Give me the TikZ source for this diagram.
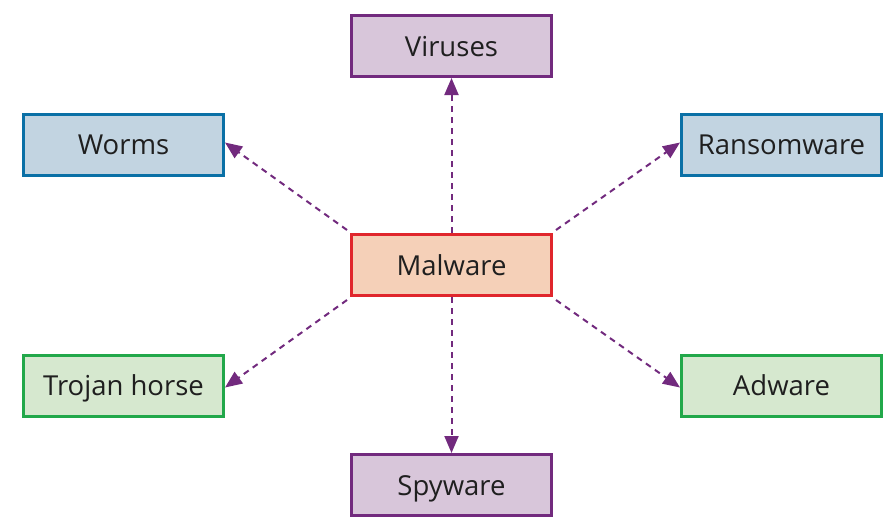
\documentclass[tikz,border=0pt]{standalone}
\usepackage{fontspec}
\setmainfont{Open Sans}
\usetikzlibrary{arrows.meta}
\definecolor{malred}{HTML}{E0262C}
\definecolor{malfill}{HTML}{F5D0B8}
\definecolor{purpleline}{HTML}{722A7E}
\definecolor{purplefill}{HTML}{D8C6DA}
\definecolor{blueline}{HTML}{0A70A6}
\definecolor{bluefill}{HTML}{C2D4E1}
\definecolor{greenline}{HTML}{22A84A}
\definecolor{greenfill}{HTML}{D6E8CF}

\begin{document}
\begin{tikzpicture}[x=1pt,y=-1pt,font=\fontsize{27.5}{32}\selectfont,
  box/.style={draw,line width=3pt,minimum width=200pt,minimum height=61pt,inner sep=0pt,
    text height=23pt,text depth=3pt,text=black!88},
  purplebox/.style={box,draw=purpleline,fill=purplefill},
  bluebox/.style={box,draw=blueline,fill=bluefill},
  greenbox/.style={box,draw=greenline,fill=greenfill},
  link/.style={-{Triangle[length=17pt,width=14pt]},purpleline,line width=2pt,dash pattern=on 6pt off 5pt}]
  \useasboundingbox (0,0) rectangle (896,528);
  \node[box,draw=malred,fill=malfill] (mal) at (451.5,265) {Malware};
  \node[purplebox] (vir) at (451.5,46) {Viruses};
  \node[purplebox] (spy) at (451.5,485) {Spyware};
  \node[bluebox] (worm) at (123.5,144.5) {Worms};
  \node[bluebox] (rans) at (781.5,144.5) {Ransomware};
  \node[greenbox] (troj) at (123.5,385.5) {Trojan horse};
  \node[greenbox] (adw) at (781.5,385.5) {Adware};

  \draw[link] (mal.north) -- (vir.south);
  \draw[link] (mal.south) -- (spy.north);
  \draw[link] ([shift={(-3,-3)}]mal.north west) -- ([yshift=2]worm.east);
  \draw[link] ([shift={(3,-3)}]mal.north east) -- ([yshift=2]rans.west);
  \draw[link] ([shift={(-3,3)}]mal.south west) -- ([yshift=-2]troj.east);
  \draw[link] ([shift={(3,3)}]mal.south east) -- ([yshift=-2]adw.west);
\end{tikzpicture}
\end{document}
